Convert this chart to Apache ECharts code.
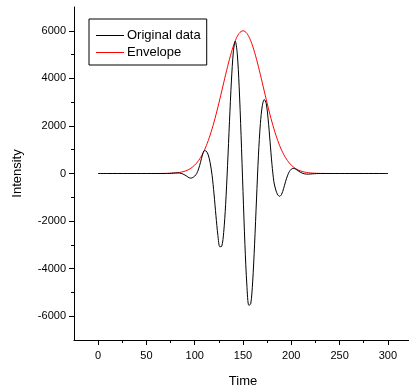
<!DOCTYPE html>
<html><head><meta charset="utf-8">
<script src="https://cdn.jsdelivr.net/npm/echarts@6/dist/echarts.min.js"></script>
<style>html,body{margin:0;padding:0;background:#fff}#c{width:409px;height:392px}</style>
</head><body><div id="c"></div>
<script>
// Time values (x)
const time = [0,10,20,30,40,50,60,
70,72,74,76,78,80,82,84,86,88,90,92,94,96,98,100,102,104,106,108,110,112,114,116,118,120,
122,124,126,128,130,132,134,136,138,140,142,144,146,148,150,152,154,156,158,160,162,164,166,168,170,
172,174,176,178,180,182,184,186,188,190,192,194,196,198,200,202,204,206,208,210,212,214,216,218,220,
222,224,226,228,230,
240,250,260,270,280,290,300];
// Original data (black)
const original = [0,0,0,0,0,0,0,
0,2,5,11,17,22,24,20,4,-25,-67,-120,-175,-195,-170,-110,-5,190,470,780,960,940,780,450,-80,-860,
-1780,-2600,-3080,-3060,-2480,-1310,330,2180,3890,5110,5560,5060,3670,1610,-750,-2990,-4690,-5540,-5480,-4560,-2970,-1070,770,2100,2850,
3110,2950,2300,1350,380,-350,-700,-900,-960,-870,-640,-350,-100,80,180,215,195,145,90,40,5,-16,-25,-26,-21,
-15,-8,-4,0,0,
0,0,0,0,0,0,0];
// Envelope (red)
const envelope = [0,0,0,0,0,0,0,
4,6,9,12,17,23,32,43,58,77,101,132,171,220,280,353,440,545,668,812,978,1167,1381,1618,1879,2163,
2467,2789,3123,3466,3812,4156,4489,4804,5096,5357,5580,5760,5892,5973,6000,5973,5892,5760,5580,5357,5096,4804,4489,4156,3812,
3466,3123,2789,2467,2163,1879,1618,1381,1167,978,812,668,545,440,353,280,220,171,132,101,77,58,43,32,23,
17,12,9,6,4,
0,0,0,0,0,0,0];
const xMajor = [0,50,100,150,200,250,300];
const xMinor = [25,75,125,175,225,275];
const yMajor = [-6000,-4000,-2000,0,2000,4000,6000];
const yMinor = [-5000,-3000,-1000,1000,3000,5000];

const font = '"Liberation Sans", Arial, sans-serif';
const chart = echarts.init(document.getElementById('c'));
const pairs = arr => time.map((t,i)=>[t,arr[i]]);
chart.setOption({
  animation:false,
  grid:{left:74, top:7, width:338, bottom:52, outerBoundsMode:'none', containLabel:false},
  legend:{
    left:89, top:19, orient:'vertical', itemGap:4, padding:[10,6,6,7],
    borderColor:'#000', borderWidth:1, itemWidth:28, itemHeight:1,
    textStyle:{fontFamily:font, fontSize:13, color:'#000', padding:[0,0,0,-2]},
    data:[{name:'Original data', icon:'rect'},{name:'Envelope', icon:'rect'}]
  },
  xAxis:[{
    type:'value', min:-25, max:325, interval:25,
    name:'Time', nameLocation:'middle', nameGap:35,
    nameTextStyle:{fontFamily:font, fontSize:13, color:'#000'},
    axisLine:{show:true, onZero:false, lineStyle:{color:'#000', width:1}},
    axisTick:{show:true, customValues:xMajor, length:5, lineStyle:{color:'#000'}},
    axisLabel:{customValues:xMajor, fontFamily:font, fontSize:11, color:'#000', margin:10},
    splitLine:{show:false}
  },{
    type:'value', min:-25, max:325, position:'bottom',
    axisLine:{show:false, onZero:false}, axisLabel:{show:false}, splitLine:{show:false},
    axisTick:{show:true, customValues:xMinor, length:3, lineStyle:{color:'#000'}}
  }],
  yAxis:[{
    type:'value', min:-7000, max:7000, interval:1000,
    name:'Intensity', nameLocation:'middle', nameGap:50,
    nameTextStyle:{fontFamily:font, fontSize:13, color:'#000'},
    axisLine:{show:true, onZero:false, lineStyle:{color:'#000', width:1}},
    axisTick:{show:true, customValues:yMajor, length:5, lineStyle:{color:'#000'}},
    axisLabel:{customValues:yMajor, fontFamily:font, fontSize:11, color:'#000', margin:8,
               formatter:v=>String(v)},
    splitLine:{show:false}
  },{
    type:'value', min:-7000, max:7000, position:'left',
    axisLine:{show:false, onZero:false}, axisLabel:{show:false}, splitLine:{show:false},
    axisTick:{show:true, customValues:yMinor, length:3, lineStyle:{color:'#000'}}
  }],
  series:[
    {name:'Envelope', type:'line', data:pairs(envelope), showSymbol:false, smooth:0.3,
     lineStyle:{color:'#ff0000', width:1}, itemStyle:{color:'#ff0000'}, z:2},
    {name:'Original data', type:'line', data:pairs(original), showSymbol:false, smooth:0.3,
     lineStyle:{color:'#000000', width:1}, itemStyle:{color:'#000000'}, z:3}
  ]
});
</script></body></html>
